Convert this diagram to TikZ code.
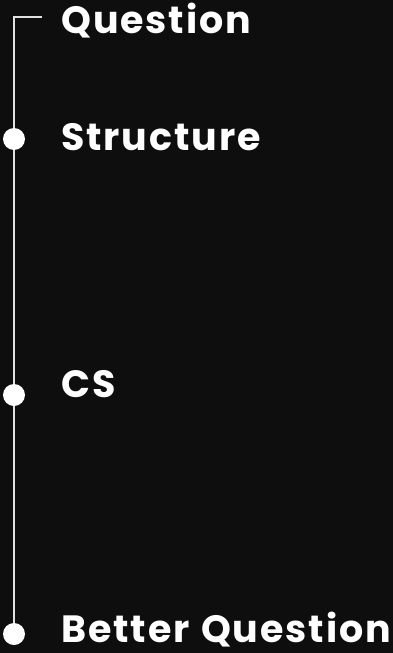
\documentclass[tikz,border=0pt]{standalone}
\usepackage{fontspec}
\newfontfamily\lblfont[LetterSpace=5]{Poppins}
\definecolor{bgdark}{RGB}{14,14,14}
\definecolor{railgray}{RGB}{225,225,225}
\begin{document}
\begin{tikzpicture}[x=1pt,y=-1pt,
    dot/.style={circle,fill=white,inner sep=0pt,minimum size=22pt},
    lbl/.style={anchor=base west,inner sep=0pt,text=white,font={\lblfont\bfseries\fontsize{38}{42}\selectfont\spaceskip=0.3em}},
    rail/.style={draw=railgray,line width=1.2pt}]
    \fill[bgdark] (0,0) rectangle (393,653);
    \useasboundingbox (0,0) rectangle (393,653);
    \coordinate (tick) at (42,17);
    \coordinate (top) at (14,17);
    \node[dot] (structdot) at (14,139) {};
    \node[dot] (csdot) at (14,395) {};
    \node[dot] (betterdot) at (14,634) {};
    \draw[rail] (tick) -- (top) -- (structdot) -- (csdot) -- (betterdot);
    \node[lbl] (question) at (61,33) {Question};
    \node[lbl] (structure) at (61,150) {Structure};
    \node[lbl] (cs) at (61,397) {CS};
    \node[lbl] (better) at (61,642) {Better Question};
  \end{tikzpicture}
\end{document}
